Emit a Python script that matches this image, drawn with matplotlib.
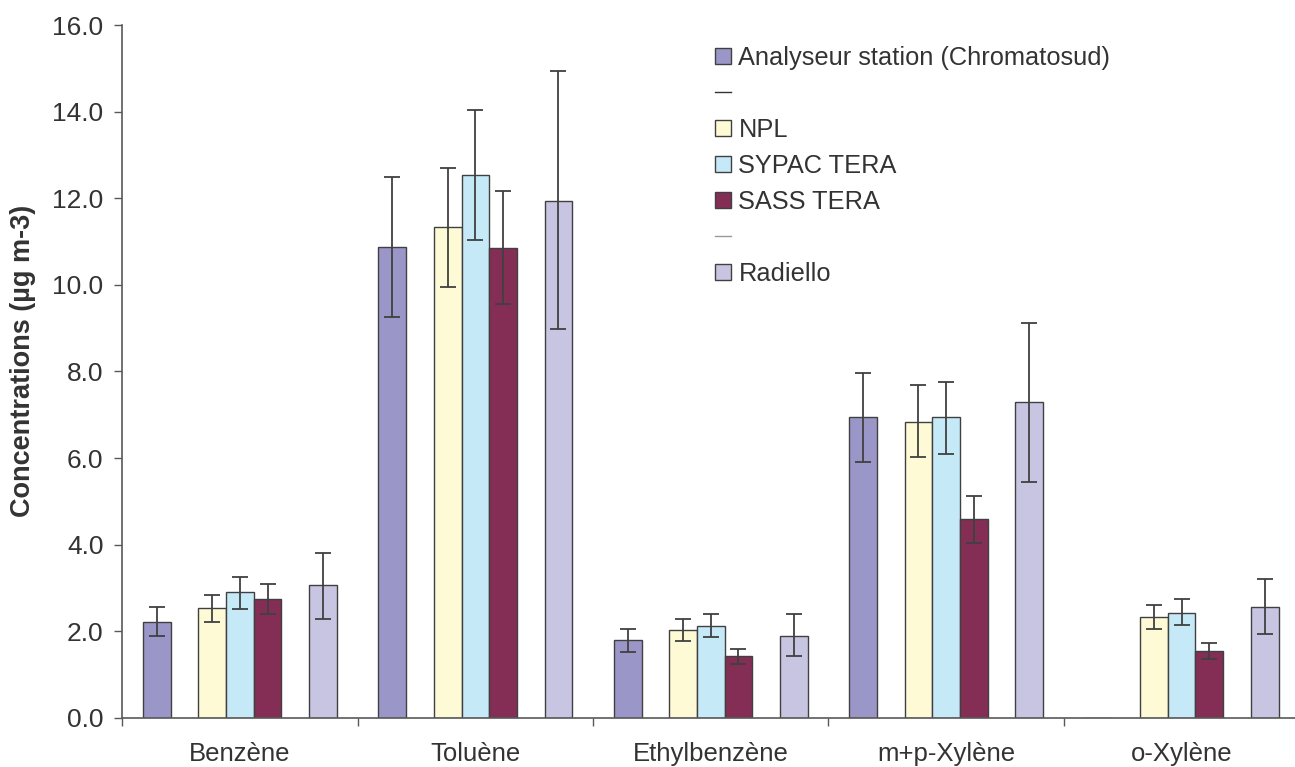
import matplotlib
matplotlib.use("Agg")
import matplotlib.pyplot as plt
import numpy as np
from matplotlib.patches import Patch
from matplotlib.lines import Line2D

## Data:
categories = ["Benzène", "Toluène", "Ethylbenzène", "m+p-Xylène", "o-Xylène"]

series_names = ["Analyseur station (Chromatosud)", "", "NPL", "SYPAC TERA",
                "SASS TERA", "", "Radiello"]

analyseur = [2.21, 10.87, 1.79, 6.94, np.nan]
analyseur_lo = [1.90, 9.25, 1.52, 5.91, np.nan]
analyseur_hi = [2.56, 12.50, 2.06, 7.97, np.nan]

npl = [2.53, 11.34, 2.02, 6.84, 2.34]
npl_lo = [2.21, 9.96, 1.78, 6.03, 2.06]
npl_hi = [2.84, 12.69, 2.28, 7.68, 2.62]

sypac = [2.90, 12.53, 2.12, 6.94, 2.43]
sypac_lo = [2.52, 11.03, 1.87, 6.09, 2.15]
sypac_hi = [3.25, 14.03, 2.41, 7.75, 2.75]

sass = [2.75, 10.84, 1.43, 4.59, 1.55]
sass_lo = [2.40, 9.56, 1.24, 4.03, 1.37]
sass_hi = [3.09, 12.16, 1.59, 5.12, 1.74]

radiello = [3.06, 11.93, 1.90, 7.30, 2.56]
radiello_lo = [2.28, 8.97, 1.42, 5.46, 1.93]
radiello_hi = [3.82, 14.94, 2.41, 9.12, 3.21]

# slot in the group -> (values, low, high, colour); slots 1 and 5 are empty series
series = {
    0: (analyseur, analyseur_lo, analyseur_hi, "#9b96c8"),
    2: (npl, npl_lo, npl_hi, "#fffad6"),
    3: (sypac, sypac_lo, sypac_hi, "#c6e9f8"),
    4: (sass, sass_lo, sass_hi, "#842d55"),
    6: (radiello, radiello_lo, radiello_hi, "#c8c5e2"),
}


def main():
  txt = "#333333"
  plt.rcParams['font.family'] = ['Liberation Sans', 'DejaVu Sans']

  fig = plt.figure(figsize=(12.95, 7.67), dpi=100)
  ax = fig.add_axes([0.0944, 0.0639, 0.9089, 0.9035])

  w = 1.0 / 8.5
  x = np.arange(len(categories))

  for slot, (vals, lo, hi, col) in series.items():
    vals = np.array(vals, dtype=float)
    xs = x - 0.5 + 0.75 * w + (slot + 0.5) * w
    ax.bar(xs, np.nan_to_num(vals), width=w, color=col,
           edgecolor="#404040", linewidth=1.0, zorder=2)
    err = np.array([vals - np.array(lo), np.array(hi) - vals])
    ax.errorbar(xs, vals, yerr=err, fmt='none', ecolor="#404040",
                elinewidth=1.3, capsize=5.5, capthick=1.3, zorder=3)

  ax.set_xlim(-0.5, len(categories) - 0.5)
  ax.set_ylim(0, 16)
  ax.set_yticks(np.arange(0, 16.1, 2))
  ax.set_yticklabels(["%.1f" % v for v in np.arange(0, 16.1, 2)])

  # boundaries as major ticks, labels on minor ticks at the centers
  ax.set_xticks(np.arange(-0.5, len(categories), 1.0))
  ax.set_xticklabels([])
  ax.set_xticks(x, minor=True)
  ax.set_xticklabels(categories, minor=True)
  ax.tick_params(axis='x', which='major', length=6, width=1, color="#595959",
                 direction='out')
  ax.tick_params(axis='x', which='minor', length=0, pad=17, labelsize=18.5,
                 labelcolor=txt)
  ax.tick_params(axis='y', length=5.5, width=1, color="#595959", pad=8,
                 labelsize=19, labelcolor=txt)

  for s in ['top', 'right']:
    ax.spines[s].set_visible(False)
  for s in ['left', 'bottom']:
    ax.spines[s].set_color("#595959")
    ax.spines[s].set_linewidth(1.2)

  fig.text(0.018, 0.529, "Concentrations (µg m-3)", rotation=90,
           ha='center', va='center', fontsize=19.5, fontweight='bold',
           color=txt)

  # legend, with the two empty series shown as short dashes
  handles = []
  for i, name in enumerate(series_names):
    if i in series:
      handles.append(Patch(facecolor=series[i][3], edgecolor="#404040",
                           linewidth=1.0))
    else:
      c = "#333333" if i == 1 else "#999999"
      handles.append(Line2D([], [], color=c, linewidth=1.0))
  leg = ax.legend(handles, series_names, loc='upper left',
                  bbox_to_anchor=(0.552, 0.940), bbox_transform=fig.transFigure,
                  frameon=False, fontsize=18.3, handlelength=0.63,
                  handleheight=0.6, handletextpad=0.3, labelspacing=0.47,
                  borderpad=0, borderaxespad=0)
  for t in leg.get_texts():
    t.set_color(txt)

  fig.savefig("out.png", dpi=100)


if __name__ == "__main__":
    main()
